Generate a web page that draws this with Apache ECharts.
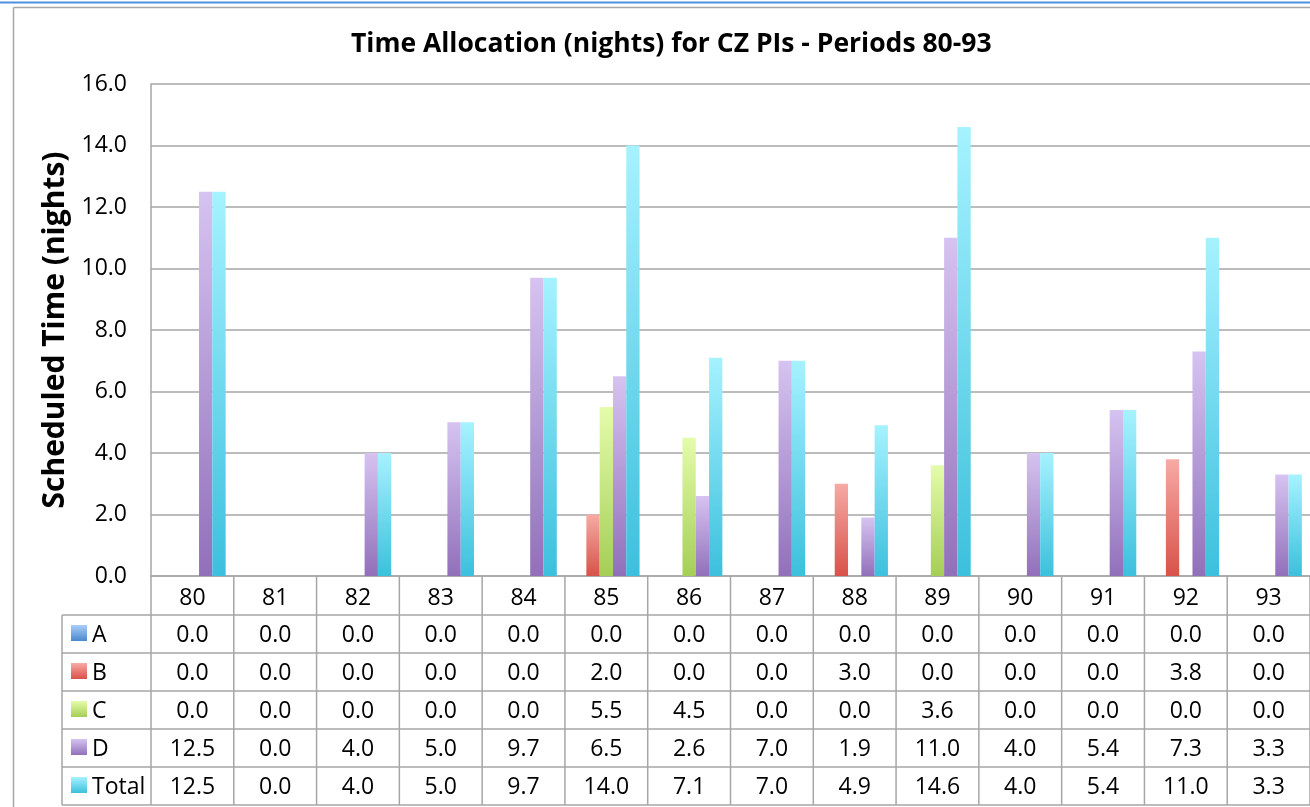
<!DOCTYPE html>
<html>
<head>
<meta charset="utf-8">
<script src="https://cdn.jsdelivr.net/npm/echarts@6/dist/echarts.min.js"></script>
<style>
html,body{margin:0;padding:0;background:#fff;}
#main{width:1310px;height:807px;}
</style>
</head>
<body>
<div id="main"></div>
<script>
const categories = ['80','81','82','83','84','85','86','87','88','89','90','91','92','93'];
const seriesNames = ['A','B','C','D','Total'];
const valuesA = [0,0,0,0,0,0,0,0,0,0,0,0,0,0];
const valuesB = [0,0,0,0,0,2.0,0,0,3.0,0,0,0,3.8,0];
const valuesC = [0,0,0,0,0,5.5,4.5,0,0,3.6,0,0,0,0];
const valuesD = [12.5,0,4.0,5.0,9.7,6.5,2.6,7.0,1.9,11.0,4.0,5.4,7.3,3.3];
const valuesTotal = [12.5,0,4.0,5.0,9.7,14.0,7.1,7.0,4.9,14.6,4.0,5.4,11.0,3.3];
const yTicks = [0,2,4,6,8,10,12,14,16];

const allValues = [valuesA, valuesB, valuesC, valuesD, valuesTotal];
const gradTop = ['#a9cef9','#f7aaa4','#e4fcab','#d6c3f1','#a6f2ff'];
const gradBot = ['#4a89d0','#d8524a','#a5ce56','#9170ba','#3cc0dd'];
const FONT = '"Open Sans", "Liberation Sans", sans-serif';
const GRAY = '#a6a6a6';
const FS = 23;

function grad(i){
  return new echarts.graphic.LinearGradient(0,0,0,1,[
    {offset:0,color:gradTop[i]},{offset:1,color:gradBot[i]}
  ]);
}

const chart = echarts.init(document.getElementById('main'), null, {renderer:'canvas'});
const option = {
  animation:false,
  backgroundColor:'#fff',
  title:{
    text:'Time Allocation (nights) for CZ PIs - Periods 80-93',
    left:351, top:31, padding:0,
    textStyle:{fontFamily:FONT,fontSize:26.5,fontWeight:'bold',color:'#000'}
  },
  grid:{left:151,right:-3,top:84,bottom:231,containLabel:false},
  xAxis:{
    type:'category', data:categories,
    axisLine:{lineStyle:{color:GRAY,width:1.5}},
    axisTick:{show:false},
    axisLabel:{fontFamily:FONT,fontSize:FS,color:'#000',margin:11},
    splitLine:{show:false}
  },
  yAxis:{
    type:'value', min:yTicks[0], max:yTicks[yTicks.length-1], interval:yTicks[1]-yTicks[0],
    name:'Scheduled Time (nights)', nameLocation:'middle', nameGap:76,
    nameTextStyle:{fontFamily:FONT,fontSize:30,fontWeight:'bold',color:'#000'},
    axisLine:{show:true,lineStyle:{color:GRAY,width:1.5}},
    axisTick:{show:false},
    axisLabel:{fontFamily:FONT,fontSize:FS,color:'#000',margin:24,formatter:v=>v.toFixed(1)},
    splitLine:{lineStyle:{color:GRAY,width:1.5}}
  },
  series: seriesNames.map((n,i)=>({
    name:n, type:'bar', data:allValues[i],
    barWidth:13.3, barGap:'0%',
    itemStyle:{color:grad(i),shadowColor:'rgba(0,0,0,0.3)',shadowBlur:3,shadowOffsetX:1.5,shadowOffsetY:0}
  }))
};
chart.setOption(option);

// Data table built from the same arrays, positioned through the chart's scales
const c0 = chart.convertToPixel({xAxisIndex:0}, 0);
const c1 = chart.convertToPixel({xAxisIndex:0}, 1);
const band = c1 - c0;
const left = c0 - band/2;
const right = left + band*categories.length;
const yBase = chart.convertToPixel({yAxisIndex:0}, 0);
const headerH = 39, rowH = 38;
const legendLeft = 62;
const elements = [];
const lineStyle = {stroke:GRAY,lineWidth:1.5};
elements.push({type:'line',shape:{x1:0,y1:2.5,x2:1310,y2:2.5},style:{stroke:'#4f8fdf',lineWidth:2}});
elements.push({type:'line',shape:{x1:13.5,y1:7.5,x2:1310,y2:7.5},style:{stroke:GRAY,lineWidth:1.5}});
elements.push({type:'line',shape:{x1:13.5,y1:7.5,x2:13.5,y2:807},style:{stroke:GRAY,lineWidth:1.5}});
const tableTop = yBase + headerH;
const tableBottom = tableTop + rowH*seriesNames.length;
for(let k=0;k<=categories.length;k++){
  const x = left + band*k;
  elements.push({type:'line',shape:{x1:x,y1:yBase,x2:x,y2:tableBottom},style:lineStyle});
}
elements.push({type:'line',shape:{x1:legendLeft,y1:tableTop,x2:legendLeft,y2:tableBottom},style:lineStyle});
for(let r=0;r<=seriesNames.length;r++){
  const y = tableTop + rowH*r;
  elements.push({type:'line',shape:{x1:legendLeft,y1:y,x2:right,y2:y},style:lineStyle});
}
seriesNames.forEach((n,r)=>{
  const yc = tableTop + rowH*r + rowH/2;
  elements.push({type:'rect',shape:{x:71,y:yc-9,width:16,height:16},style:{fill:grad(r)}});
  elements.push({type:'text',x:92,y:yc+1,style:{text:n,font:FS+'px '+FONT,fill:'#000',verticalAlign:'middle'}});
  allValues[r].forEach((v,ci)=>{
    const xc = chart.convertToPixel({xAxisIndex:0}, ci);
    elements.push({type:'text',x:xc,y:yc+1,style:{text:v.toFixed(1),font:FS+'px '+FONT,fill:'#000',align:'center',verticalAlign:'middle'}});
  });
});
chart.setOption({graphic:{elements:elements}});
</script>
</body>
</html>
